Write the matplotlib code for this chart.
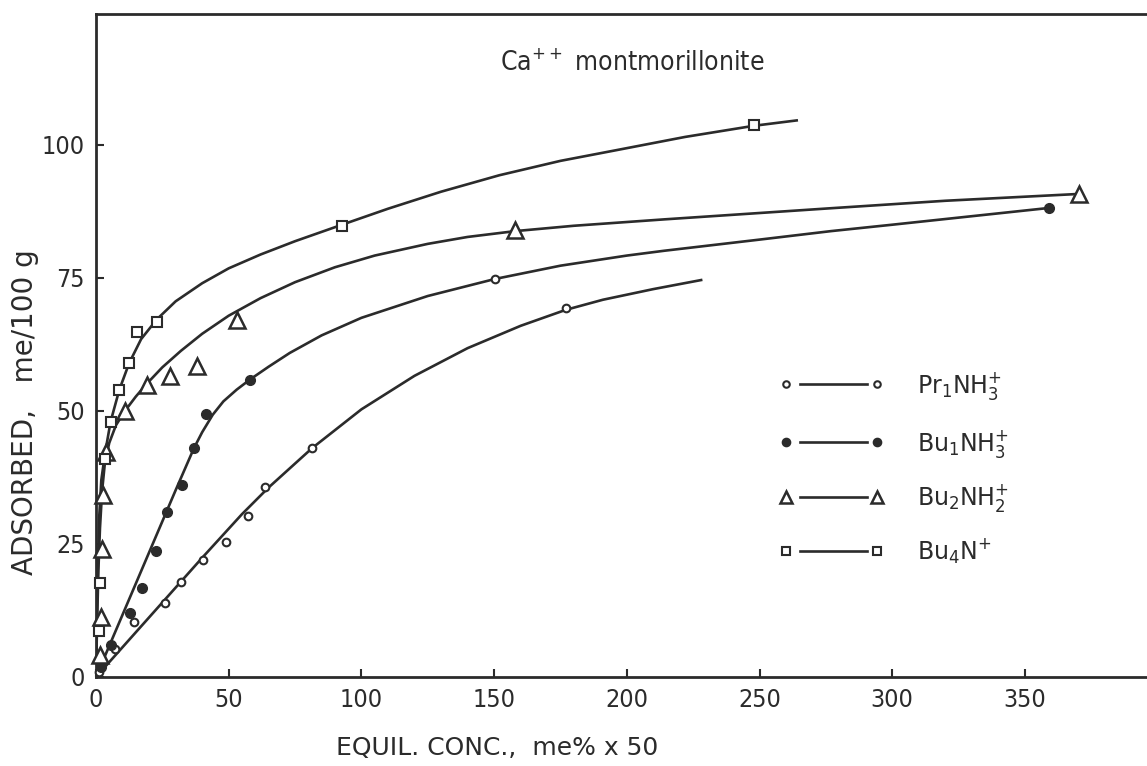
#Adsorption isotherms of alkylammonium ions on Ca-montmorillonite
#Measured points plus the hand-drawn smooth curves through them
import matplotlib
matplotlib.use('Agg')
from matplotlib import pyplot as plt

INK = '#2b2b2b'
NARROW = ['DejaVu Sans Condensed', 'Liberation Sans Narrow', 'DejaVu Sans']

# measured points: x = equil. conc. (me% x 50), y = adsorbed (me/100 g)
pr_x = [1.0, 7.3, 14.5, 26.0, 31.9, 40.2, 49.0, 57.2, 63.7, 81.4, 150.3, 177.1]
pr_y = [1.0, 5.2, 10.4, 14.0, 17.9, 22.0, 25.4, 30.3, 35.8, 43.0, 74.8, 69.4]

bu1_x = [1.8, 5.8, 12.8, 17.2, 22.5, 26.6, 32.3, 36.9, 41.4, 58.0, 359.0]
bu1_y = [1.9, 6.0, 12.0, 16.7, 23.7, 31.0, 36.1, 43.1, 49.4, 55.8, 88.2]

bu2_x = [1.5, 1.8, 2.1, 2.8, 3.8, 10.9, 19.3, 27.9, 38.2, 53.0, 157.9, 370.4]
bu2_y = [4.2, 11.3, 24.1, 34.2, 42.3, 49.9, 54.9, 56.6, 58.5, 67.1, 84.0, 90.8]

bu4_x = [1.2, 1.5, 3.4, 5.5, 8.8, 12.5, 15.3, 22.9, 92.7, 248.0]
bu4_y = [8.7, 17.7, 41.0, 47.9, 53.9, 59.0, 64.8, 66.8, 84.8, 103.8]

# drawn curves
pr_cx = [0, 20, 40, 55, 65, 81.4, 100, 120, 140, 160, 177, 191, 210, 228]
pr_cy = [0, 11.2, 22.4, 30.6, 35.6, 43.0, 50.3, 56.6, 61.8, 66.0, 69.0, 70.9, 72.9, 74.6]

bu1_cx = [0, 10, 20, 30, 36.9, 40, 44, 48, 53, 58, 65, 73, 85, 100, 125, 150.3,
          175, 200, 214, 250, 277, 300, 330, 360]
bu1_cy = [0, 11.7, 23.4, 35.1, 43.0, 46.0, 49.3, 51.8, 54.0, 55.9, 58.3, 60.9, 64.2,
          67.5, 71.6, 74.8, 77.3, 79.2, 80.1, 82.2, 83.8, 85.0, 86.6, 88.2]

bu2_cx = [0, 0.4, 0.9, 1.5, 2.3, 3.4, 5.0, 7.5, 10.9, 15, 19.3, 25, 32, 40, 50, 62,
          75, 90, 105, 125, 140, 158, 180, 214, 250, 277, 320, 371]
bu2_cy = [0, 10, 20, 28, 35, 40.5, 44.0, 47.3, 50.0, 52.7, 55.2, 58.2, 61.3, 64.5,
          67.9, 71.2, 74.2, 77.0, 79.2, 81.4, 82.7, 83.8, 84.8, 86.0, 87.2, 88.1, 89.5, 90.8]

bu4_cx = [0, 0.3, 0.7, 1.2, 2.0, 3.4, 5.5, 8.8, 12.5, 17, 22.9, 30, 40, 50, 62, 75,
          92.7, 110, 130, 152, 175, 197, 222, 248, 264]
bu4_cy = [0, 10, 20, 30, 37, 42, 48, 54, 59, 63.5, 67.2, 70.6, 74, 76.8, 79.4, 81.9,
          85.0, 88.0, 91.2, 94.3, 97.0, 99.1, 101.5, 103.6, 104.6]

LABELS = [
    r'Pr$_\mathregular{1}$NH$_\mathregular{3}^\mathregular{+}$',
    r'Bu$_\mathregular{1}$NH$_\mathregular{3}^\mathregular{+}$',
    r'Bu$_\mathregular{2}$NH$_\mathregular{2}^\mathregular{+}$',
    r'Bu$_\mathregular{4}$N$^\mathregular{+}$',
]

fig = plt.figure(figsize=(11.47, 7.66), dpi=100)
ax = fig.add_axes([96 / 1147, 89 / 766, 1051 / 1147, 663 / 766])

styles = [
    dict(marker='o', ms=5.5, mfc='white', mew=1.5),
    dict(marker='o', ms=7, mfc=INK, mew=1.0),
    dict(marker='^', ms=11, mfc='white', mew=1.8),
    dict(marker='s', ms=6.5, mfc='white', mew=1.5),
]
points = [(pr_x, pr_y), (bu1_x, bu1_y), (bu2_x, bu2_y), (bu4_x, bu4_y)]
curves = [(pr_cx, pr_cy), (bu1_cx, bu1_cy), (bu2_cx, bu2_cy), (bu4_cx, bu4_cy)]

for (px, py), (cx, cy), mk in zip(points, curves, styles):
    ax.plot(cx, cy, color=INK, lw=1.9, solid_joinstyle='round', zorder=2)
    ax.plot(px, py, ls='none', mec=INK, clip_on=False, zorder=3, **mk)

# key: marker, short line, marker, then the ion name
key_y = [0.442, 0.354, 0.272, 0.190]
for y, mk, label in zip(key_y, styles, LABELS):
    small = dict(mk)
    small['ms'] = mk['ms'] * 0.85
    ax.plot([0.670, 0.734], [y, y], transform=ax.transAxes, color=INK, lw=1.9)
    ax.plot([0.6565, 0.7431], [y, y], transform=ax.transAxes, ls='none',
            mec=INK, clip_on=False, **small)
    ax.text(0.781, y - 0.013, label, transform=ax.transAxes, va='baseline',
            fontsize=17, color=INK)

ax.set_xlim(0, 396)
ax.set_ylim(0, 124.6)
ax.set_xticks(range(0, 351, 50))
ax.set_yticks([0, 25, 50, 75, 100])
ax.tick_params(direction='in', length=6, width=1.5, colors=INK, labelsize=18, pad=8)
for t in ax.get_xticklabels() + ax.get_yticklabels():
    t.set_family(NARROW)
    t.set_stretch('condensed')

ax.spines['right'].set_visible(False)
for side in ['left', 'bottom', 'top']:
    ax.spines[side].set_linewidth(2.0)
    ax.spines[side].set_color(INK)

ax.text(0.51, 0.925, r'Ca$^\mathregular{++}$ montmorillonite', transform=ax.transAxes,
        ha='center', va='center', fontsize=19, color=INK, family=NARROW,
        stretch='condensed')

ax.set_xlabel('EQUIL. CONC.,  me% x 50', fontsize=18, color=INK, va='center')
ax.xaxis.set_label_coords(0.382, -0.107)
ax.set_ylabel('ADSORBED,   me/100 g', fontsize=20, color=INK, va='center')
ax.yaxis.set_label_coords(-0.0675, 0.40)

plt.savefig('out.png', dpi=100)
